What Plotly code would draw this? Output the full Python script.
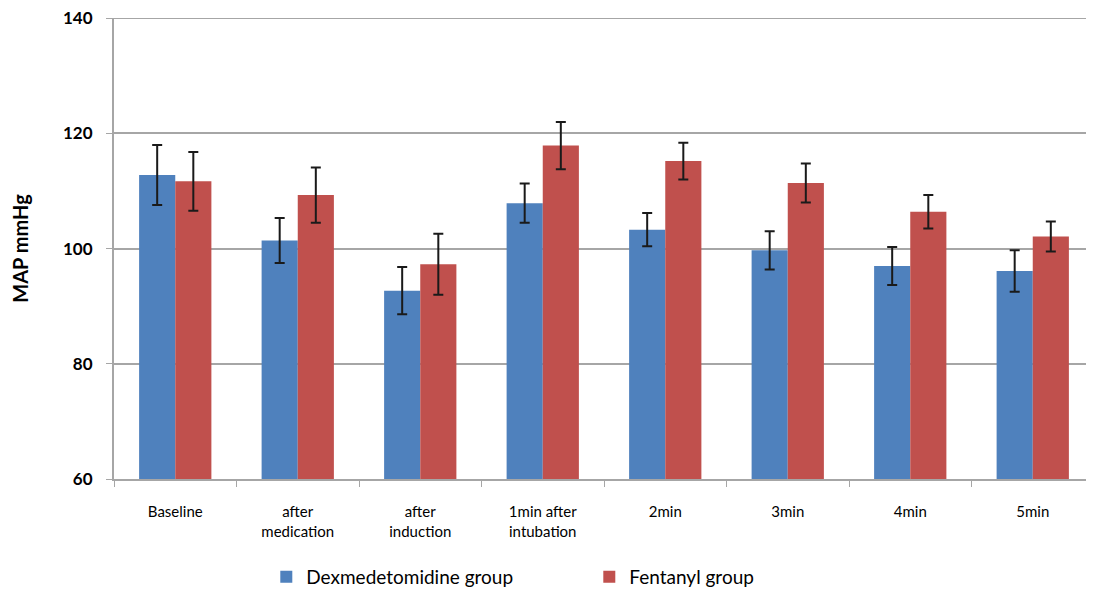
import plotly.graph_objects as go

categories = ["Baseline", "after<br>medication", "after<br>induction", "1min after<br>intubation",
              "2min", "3min", "4min", "5min"]
dex_values = [112.8, 101.4, 92.7, 107.9, 103.3, 99.7, 97.0, 96.1]
dex_err = [5.2, 3.9, 4.1, 3.4, 2.9, 3.3, 3.3, 3.6]
fen_values = [111.7, 109.3, 97.3, 117.9, 115.2, 111.4, 106.4, 102.1]
fen_err = [5.1, 4.8, 5.3, 4.1, 3.2, 3.4, 2.9, 2.6]
y_ticks = [60, 80, 100, 120, 140]

font_family = "Lato, 'Open Sans', sans-serif"
grid_color = "#a6a6a6"

fig = go.Figure()
fig.add_trace(go.Bar(
    x=categories, y=dex_values, name="Dexmedetomidine group",
    marker=dict(color="#4F81BD", line=dict(width=0)),
    error_y=dict(type="data", array=dex_err, visible=True, color="#1a1a1a", thickness=2, width=5),
))
fig.add_trace(go.Bar(
    x=categories, y=fen_values, name="Fentanyl group",
    marker=dict(color="#C0504D", line=dict(width=0)),
    error_y=dict(type="data", array=fen_err, visible=True, color="#1a1a1a", thickness=2, width=5),
))

fig.update_layout(
    width=1086, height=584,
    margin=dict(l=106, r=0, t=10, b=113, autoexpand=False),
    barmode="group", bargap=0.41, bargroupgap=0,
    plot_bgcolor="white", paper_bgcolor="white",
    font=dict(family=font_family, color="black"),
    legend=dict(orientation="h", x=0.485, xref="paper", xanchor="center",
                yref="container", y=0.026, yanchor="middle",
                font=dict(size=19, color="black"), itemwidth=30, traceorder="normal",
                entrywidth=278),
    showlegend=True,
)
# top gridline (Plotly hides gridlines at the range edge)
fig.add_shape(type="line", xref="paper", x0=0, x1=1, yref="y", y0=y_ticks[-1], y1=y_ticks[-1],
              line=dict(color=grid_color, width=1.5), layer="below")
fig.update_yaxes(
    range=[60, 140.05], tickvals=y_ticks, showgrid=True, gridcolor=grid_color, gridwidth=1.5,
    showline=True, linecolor=grid_color, linewidth=2, ticks="outside", tickcolor=grid_color,
    ticklen=6, tickfont=dict(size=17, family=font_family, weight="bold"),
    ticklabelstandoff=10, ticklabeloverflow="allow", automargin=False,
    title=dict(text="<b>MAP mmHg</b>", font=dict(size=20, family=font_family), standoff=30),
    zeroline=False,
)
fig.update_xaxes(
    showline=True, linecolor=grid_color, linewidth=2, ticks="outside", tickson="boundaries",
    tickcolor=grid_color, ticklen=6, tickfont=dict(size=15, family=font_family),
    ticklabelstandoff=18, automargin=False,
)

fig.write_html("out.html")
